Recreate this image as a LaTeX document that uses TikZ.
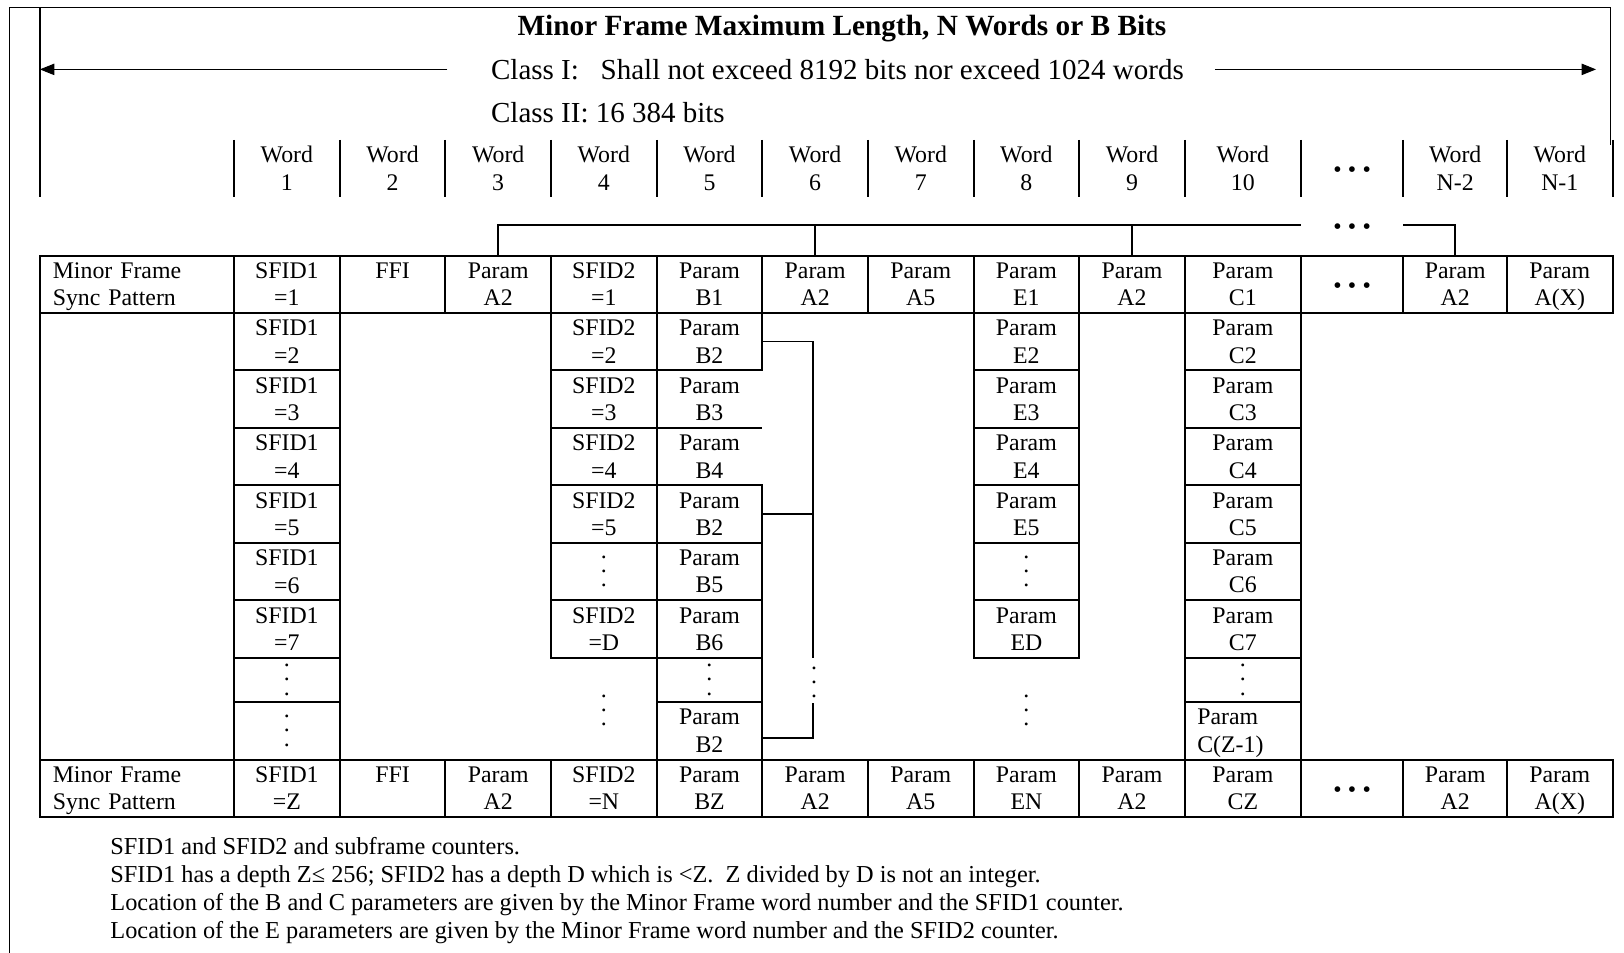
\documentclass[tikz,border=0pt]{standalone}
\usepackage{fontspec}
\setmainfont{Liberation Serif}
\usetikzlibrary{arrows.meta,positioning}

\newcommand{\tabfont}{\fontsize{23}{26.5}\selectfont}
\newcommand{\dotfont}{\fontsize{23}{13.7}\selectfont}
\newcommand{\wdots}{\textbullet\kern6pt\textbullet\kern6pt\textbullet}

\begin{document}
\begin{tikzpicture}[x=1pt,y=-1pt,
    cell/.style={draw,line width=2pt,rectangle,inner sep=0pt,outer sep=0pt,text depth=0pt,
        minimum width=102pt,minimum height=55pt,anchor=north west,align=center,font=\tabfont},
    sub/.style={cell,minimum height=55.5pt},
    wide/.style={minimum width=112pt},
    lcell/.style={align=left,text depth=26.5pt},
    vd/.style={font=\dotfont},
    bul/.style={yshift=-4pt},
    hdr/.style={align=center,inner sep=0pt,text depth=0pt,font=\tabfont},
    rule/.style={line width=2pt},
    conn/.style={line width=1.8pt},
    frame/.style={line width=1.3pt},
    note/.style={anchor=base west,inner sep=0pt,font=\fontsize{23.5}{27}\selectfont}]
    \useasboundingbox (0,0) rectangle (1568,920);

    % outer frame
    \draw[frame] (1555,140) -- (1555,7) -- (9,7) -- (9,920);
    \draw[rule] (38.5,7) -- (38.5,190);

    % heading
    \node[anchor=base,inner sep=0pt,font=\fontsize{28.3}{34}\selectfont\bfseries] (title) at (812.9,33.8)
        {Minor Frame Maximum Length, N Words or B Bits};
    \node[anchor=base west,inner sep=0pt,font=\fontsize{28}{32}\selectfont] (cls1) at (474,77.2)
        {Class I:\ \ \ Shall not exceed 8192 bits nor exceed 1024 words};
    \node[anchor=base west,inner sep=0pt,font=\fontsize{28}{32}\selectfont] (cls2) at (474,118.5)
        {Class II: 16 384 bits};
    \coordinate (aL1) at (432,67);
    \coordinate (aL2) at (38.5,67);
    \coordinate (aR1) at (1173,67);
    \coordinate (aR2) at (1541,67);
    \draw[line width=1.1pt,-{Triangle[length=14pt,width=11pt]}] (aL1) -- (aL2);
    \draw[line width=1.1pt,-{Triangle[length=14pt,width=11pt]}] (aR1) -- (aR2);

    % word numbers
    \foreach \x in {226,328,430,532,634,736,838,940,1042,1144,1256,1355,1455,1557}
        \draw[rule] (\x,135) -- (\x,190);
    \foreach \n/\x in {1/277,2/379,3/481,4/583,5/685,6/787,7/889,8/991,9/1093,10/1200}
        \node[hdr] (w\n) at (\x,162.5) {Word\\\n};
    \node[hdr,bul] (wdots) at (1305.5,162.5) {\wdots};
    \node[hdr] (wn2) at (1405,162.5) {Word\\N-2};
    \node[hdr] (wn1) at (1506,162.5) {Word\\N-1};

    % first minor frame
    \node[cell,lcell,minimum width=187.5pt,text width=162.5pt,inner xsep=12.5pt] (syncT) at (38.5,247) {Minor Frame\\Sync Pattern};
    \node[cell] (t1) at (226,247) {SFID1\\=1};
    \node[cell] (t2) at (328,247) {FFI\\\phantom{=1}};
    \node[cell] (t3) at (430,247) {Param\\A2};
    \node[cell] (t4) at (532,247) {SFID2\\=1};
    \node[cell] (t5) at (634,247) {Param\\B1};
    \node[cell] (t6) at (736,247) {Param\\A2};
    \node[cell] (t7) at (838,247) {Param\\A5};
    \node[cell] (t8) at (940,247) {Param\\E1};
    \node[cell] (t9) at (1042,247) {Param\\A2};
    \node[cell,wide] (t10) at (1144,247) {Param\\C1};
    \node[cell,minimum width=99pt] (t11) at (1256,247) {};
    \node[hdr,bul] (t11d) at (t11) {\wdots};
    \node[cell,minimum width=100pt] (t12) at (1355,247) {Param\\A2};
    \node[cell] (t13) at (1455,247) {Param\\A(X)};

    % last minor frame
    \node[cell,lcell,minimum width=187.5pt,text width=162.5pt,inner xsep=12.5pt] (syncB) at (38.5,733.5) {Minor Frame\\Sync Pattern};
    \node[cell] (b1) at (226,733.5) {SFID1\\=Z};
    \node[cell] (b2) at (328,733.5) {FFI\\\phantom{=1}};
    \node[cell] (b3) at (430,733.5) {Param\\A2};
    \node[cell] (b4) at (532,733.5) {SFID2\\=N};
    \node[cell] (b5) at (634,733.5) {Param\\BZ};
    \node[cell] (b6) at (736,733.5) {Param\\A2};
    \node[cell] (b7) at (838,733.5) {Param\\A5};
    \node[cell] (b8) at (940,733.5) {Param\\EN};
    \node[cell] (b9) at (1042,733.5) {Param\\A2};
    \node[cell,wide] (b10) at (1144,733.5) {Param\\CZ};
    \node[cell,minimum width=99pt] (b11) at (1256,733.5) {};
    \node[hdr,bul] (b11d) at (b11) {\wdots};
    \node[cell,minimum width=100pt] (b12) at (1355,733.5) {Param\\A2};
    \node[cell] (b13) at (1455,733.5) {Param\\A(X)};
    \draw[rule] (syncT.south west) -- (syncB.north west);

    % SFID1 column
    \foreach \k/\y in {2/302,3/357.5,4/413,5/468.5,6/524,7/579.5}
        \node[sub] (f1r\k) at (226,\y) {SFID1\\=\k};
    \node[cell,vd,minimum height=42.5pt] (f1r8) at (226,635) {.\\.\\.};
    \node[cell,vd,minimum height=56pt] (f1r9) at (226,677.5) {.\\.\\.};

    % SFID2 column
    \foreach \k/\y in {2/302,3/357.5,4/413,5/468.5}
        \node[sub] (f2r\k) at (532,\y) {SFID2\\=\k};
    \node[sub,vd] (f2r6) at (532,524) {.\\.\\.};
    \node[sub] (f2r7) at (532,579.5) {SFID2\\=D};
    \node[hdr,vd] (f2dots) at (583,685.5) {.\\.\\.};

    % B column
    \node[sub] (p5r1) at (634,302) {Param\\B2};
    \node[sub,draw=none] (p5r2) at (634,357.5) {Param\\B3};
    \node[sub,draw=none] (p5r3) at (634,413) {Param\\B4};
    \node[sub] (p5r4) at (634,468.5) {Param\\B2};
    \node[sub] (p5r5) at (634,524) {Param\\B5};
    \node[sub] (p5r6) at (634,579.5) {Param\\B6};
    \node[cell,vd,minimum height=42.5pt] (p5r7) at (634,635) {.\\.\\.};
    \node[cell,minimum height=56pt] (p5r8) at (634,677.5) {Param\\B2};
    \draw[rule] (p5r2.south west) -- (p5r2.south east);

    \coordinate (bLine) at (785,635);
    \coordinate (bGap) at (785,679);
    \draw[conn] (p5r1.east) -| (bLine);
    \draw[conn] (p5r4.east) -- (p5r4.east -| bLine);
    \node[hdr,vd] (bdots) at (786,658.5) {.\\.\\.};
    \draw[conn] (bGap) |- ([yshift=-7pt]p5r8.east);

    % E column
    \foreach \k/\y in {2/302,3/357.5,4/413,5/468.5}
        \node[sub] (e\k) at (940,\y) {Param\\E\k};
    \node[sub,vd] (e6) at (940,524) {.\\.\\.};
    \node[sub] (eD) at (940,579.5) {Param\\ED};
    \node[hdr,vd] (edots) at (991,685.5) {.\\.\\.};

    % C column
    \foreach \k/\y in {2/302,3/357.5,4/413,5/468.5,6/524,7/579.5}
        \node[sub,wide] (c\k) at (1144,\y) {Param\\C\k};
    \node[cell,wide,vd,minimum height=42.5pt] (c8) at (1144,635) {.\\.\\.};
    \node[cell,wide,lcell,minimum height=56pt,text width=88pt,inner xsep=12pt] (c9) at (1144,677.5) {Param\\C(Z-1)};

    % words feeding the A2 parameter
    \coordinate (brL) at (1256,217);
    \coordinate (brR) at (1355,217);
    \draw[rule] (t3.north) |- (brL);
    \draw[rule] (t6.north) -- (t6.north |- brL);
    \draw[rule] (t9.north) -- (t9.north |- brL);
    \draw[rule] (brR) -| (t12.north);
    \node[hdr,bul] (brdots) at (1305.5,217) {\wdots};

    % notes
    \node[note] (n1) at (106.4,825.5) {SFID1 and SFID2 and subframe counters.};
    \node[note] (n2) at (106.4,852.5) {SFID1 has a depth Z≤ 256; SFID2 has a depth D which is <Z.\ \ Z divided by D is not an integer.};
    \node[note] (n3) at (106.4,879.3) {Location of the B and C parameters are given by the Minor Frame word number and the SFID1 counter.};
    \node[note] (n4) at (106.4,906) {Location of the E parameters are given by the Minor Frame word number and the SFID2 counter.};
\end{tikzpicture}
\end{document}
